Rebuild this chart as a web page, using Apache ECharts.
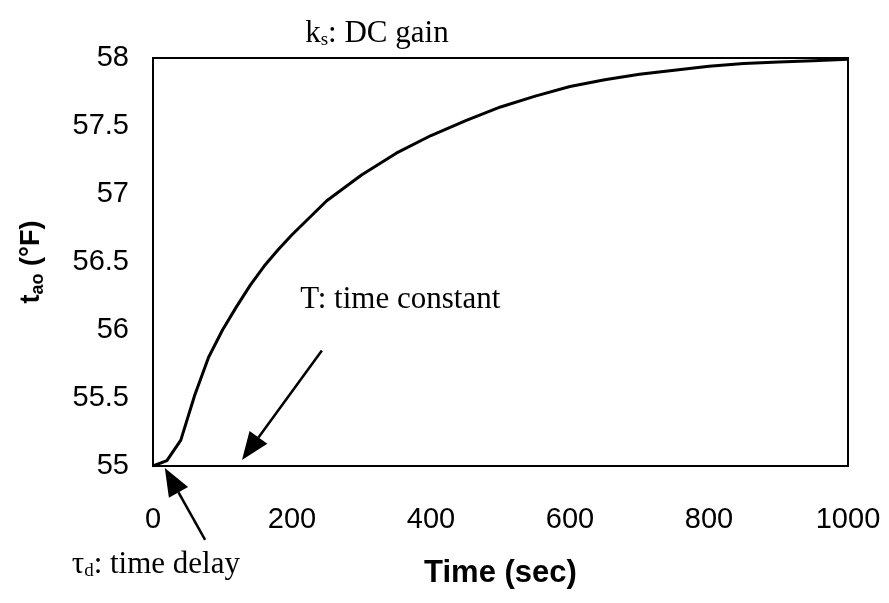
<!DOCTYPE html>
<html><head><meta charset="utf-8">
<script src="https://cdn.jsdelivr.net/npm/echarts@6/dist/echarts.min.js"></script>
<style>html,body{margin:0;padding:0;background:#fff}#c{width:889px;height:603px}</style>
</head><body><div id="c"></div>
<script>
// Time (sec)
const timeSec = [0, 20, 40, 60, 80, 100, 120, 140, 160, 180, 200, 250, 300, 350, 400, 450, 500, 550, 600, 650, 700, 750, 800, 850, 900, 950, 1000];
// Outlet air temperature t_ao (°F)
const tAo = [55.00, 55.04, 55.19, 55.52, 55.80, 56.00, 56.17, 56.33, 56.47, 56.59, 56.70, 56.95, 57.14, 57.30, 57.43, 57.54, 57.64, 57.72, 57.79, 57.84, 57.88, 57.91, 57.94, 57.96, 57.97, 57.98, 57.99];
// Axis ticks
const xTicks = [0, 200, 400, 600, 800, 1000];
const yTicks = [55, 55.5, 56, 56.5, 57, 57.5, 58];

const serif = '"Liberation Serif", "Times New Roman", serif';
const sans = '"Liberation Sans", Arial, sans-serif';

const chart = echarts.init(document.getElementById('c'), null, {renderer: 'canvas'});
chart.setOption({
  animation: false,
  backgroundColor: '#fff',
  grid: {left: 153, right: 41, top: 58, bottom: 137, show: true, borderColor: '#000', borderWidth: 2},
  xAxis: {
    type: 'value', min: xTicks[0], max: xTicks[xTicks.length - 1], interval: xTicks[1] - xTicks[0],
    axisLine: {show: true, lineStyle: {color: '#000', width: 2}},
    axisTick: {show: false}, splitLine: {show: false},
    axisLabel: {color: '#000', fontFamily: sans, fontSize: 29, margin: 39, formatter: v => String(v)},
    name: 'Time (sec)', nameLocation: 'middle', nameGap: 92,
    nameTextStyle: {color: '#000', fontFamily: sans, fontSize: 31, fontWeight: 'bold'}
  },
  yAxis: {
    type: 'value', min: yTicks[0], max: yTicks[yTicks.length - 1], interval: yTicks[1] - yTicks[0],
    axisLine: {show: true, lineStyle: {color: '#000', width: 2}},
    axisTick: {show: false}, splitLine: {show: false},
    axisLabel: {color: '#000', fontFamily: sans, fontSize: 29, margin: 24, formatter: v => String(v)},
    name: '{t|t}{s|ao}{t| (°F)}', nameLocation: 'middle', nameGap: 106,
    nameTextStyle: {
      color: '#000',
      rich: {
        t: {fontFamily: sans, fontSize: 27, fontWeight: 'bold', color: '#000'},
        s: {fontFamily: sans, fontSize: 18, fontWeight: 'bold', color: '#000', padding: [12, 0, 0, 0]}
      }
    }
  },
  series: [{
    type: 'line', data: timeSec.map((t, i) => [t, tAo[i]]),
    showSymbol: false, smooth: false,
    lineStyle: {color: '#000', width: 3}
  }]
});

// Annotations (positions in data space, converted through the chart's scales)
const annoTexts = [
  {pos: [219, 58.18], text: '{n|k}{s|s}{n|: DC gain}'},
  {pos: [212, 56.22], text: '{n|T: time constant}'},
  {pos: [-117, 54.27], text: '{n|τ}{s|d}{n|: time delay}'}
];
const annoArrows = [
  {from: [243, 55.85], to: [128, 55.044]},
  {from: [75, 54.456], to: [17, 54.985]}
];
const px = p => chart.convertToPixel({gridIndex: 0}, p);
const graphics = [];
annoTexts.forEach(a => {
  const p = px(a.pos);
  graphics.push({
    type: 'text', x: p[0], y: p[1],
    style: {
      text: a.text, verticalAlign: 'middle', align: 'left',
      rich: {
        n: {fontFamily: serif, fontSize: 31, fill: '#000'},
        s: {fontFamily: serif, fontSize: 19, fill: '#000', padding: [12, 0, 0, 0]}
      }
    }
  });
});
annoArrows.forEach(a => {
  const f = px(a.from), t = px(a.to);
  const dx = t[0] - f[0], dy = t[1] - f[1];
  const L = Math.hypot(dx, dy), ux = dx / L, uy = dy / L;
  const hl = 28, hw = 11;
  const bx = t[0] - ux * hl, by = t[1] - uy * hl;
  graphics.push({type: 'line', shape: {x1: f[0], y1: f[1], x2: bx, y2: by}, style: {stroke: '#000', lineWidth: 2.5}});
  graphics.push({type: 'polygon', shape: {points: [[t[0], t[1]], [bx - uy * hw, by + ux * hw], [bx + uy * hw, by - ux * hw]]}, style: {fill: '#000'}});
});
chart.setOption({graphic: graphics});
</script>
</body></html>
